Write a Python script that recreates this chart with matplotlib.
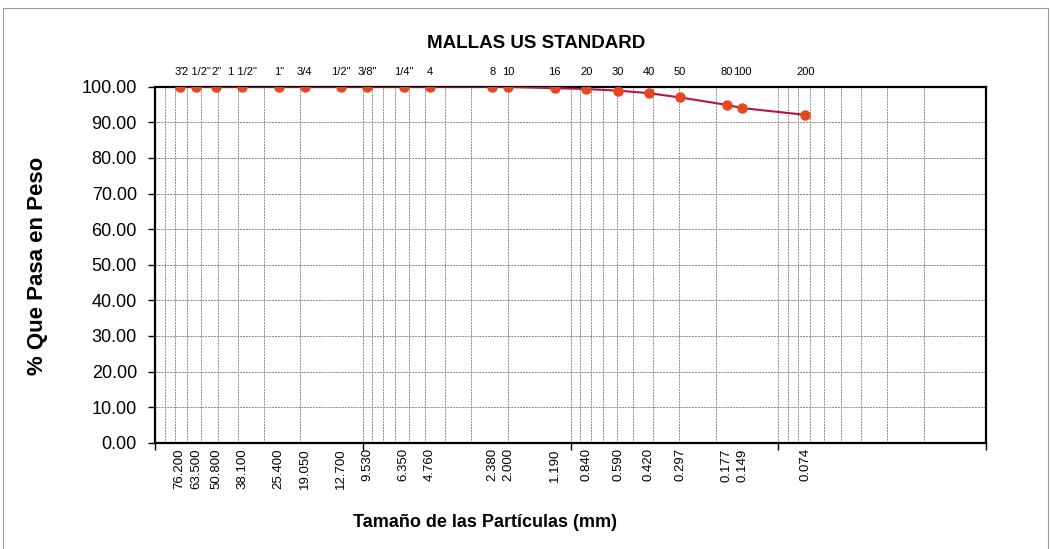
import numpy as np
import matplotlib.pyplot as plt
from matplotlib.patches import Rectangle

plt.rcParams['font.family'] = ['Liberation Sans', 'DejaVu Sans']

# abertura de mallas (mm) y % que pasa
tamanos = [76.2, 63.5, 50.8, 38.1, 25.4, 19.05, 12.7, 9.53, 6.35, 4.76,
           2.38, 2.0, 1.19, 0.84, 0.59, 0.42, 0.297, 0.177, 0.149, 0.074]
pasa = [100.0, 100.0, 100.0, 100.0, 100.0, 100.0, 100.0, 100.0, 100.0, 100.0,
        100.0, 99.95, 99.6, 99.35, 98.9, 98.2, 97.0, 94.9, 94.0, 92.1]
mallas = ['3"', '2 1/2"', '2"', '1 1/2"', '1"', '3/4', '1/2"', '3/8"', '1/4"', '4',
          '8', '10', '16', '20', '30', '40', '50', '80', '100', '200']

fig = plt.figure(figsize=(10.51, 5.49), dpi=100)
ax = fig.add_axes([0.1475, 0.1936, 0.7907, 0.6484])

ax.plot(tamanos, pasa, color='#b8143c', lw=1.5, zorder=3)
ax.plot(tamanos, pasa, 'o', color='#e8461e', ms=6.5, zorder=4)

ax.set_xscale('log')
ax.set_xlim(100, 0.01)
ax.set_ylim(0, 100)

# grilla
ax.set_yticks(np.arange(0, 101, 10))
ax.set_yticklabels(['%.2f' % v for v in np.arange(0, 101, 10)], fontsize=13)
ax.set_xticks([100, 10, 1, 0.1, 0.01])
ax.set_xticklabels([])
ax.xaxis.set_minor_formatter(plt.NullFormatter())
ax.tick_params(axis='x', which='minor', length=0)
ax.tick_params(axis='x', which='major', length=5, width=1, direction='out')
ax.tick_params(axis='y', length=5, width=1, direction='out', pad=8)
ax.grid(True, which='both', axis='x', color='#8a8a8a', lw=0.7, ls=(0, (2, 1)))
ax.grid(True, which='major', axis='y', color='#8a8a8a', lw=0.7, ls=(0, (2, 1)))
for s in ax.spines.values():
    s.set_linewidth(1.6)

# etiquetas de tamanos abajo y mallas arriba
for t, m in zip(tamanos, mallas):
    ax.annotate('%.3f' % t, xy=(t, 0), xycoords=('data', 'axes fraction'),
                xytext=(0, -4), textcoords='offset points', rotation=90,
                ha='center', va='top', fontsize=9.5)
    ax.annotate(m, xy=(t, 1), xycoords=('data', 'axes fraction'),
                xytext=(0, 8.4), textcoords='offset points',
                ha='center', va='baseline', fontsize=8)

fig.text(0.51, 0.92, 'MALLAS US STANDARD', ha='center', va='center',
         fontsize=13.5, fontweight='bold')
fig.text(0.4615, 0.049, 'Tamaño de las Partículas (mm)', ha='center', va='center',
         fontsize=13, fontweight='bold')
fig.text(0.036, 0.515, '% Que Pasa en Peso', ha='center', va='center',
         rotation=90, fontsize=16, fontweight='bold')

fig.patches.append(Rectangle((0.003, -0.02), 0.994, 1.005, transform=fig.transFigure,
                             fill=False, ec='#9a9a9a', lw=0.8))

fig.savefig('out.png', dpi=100)
